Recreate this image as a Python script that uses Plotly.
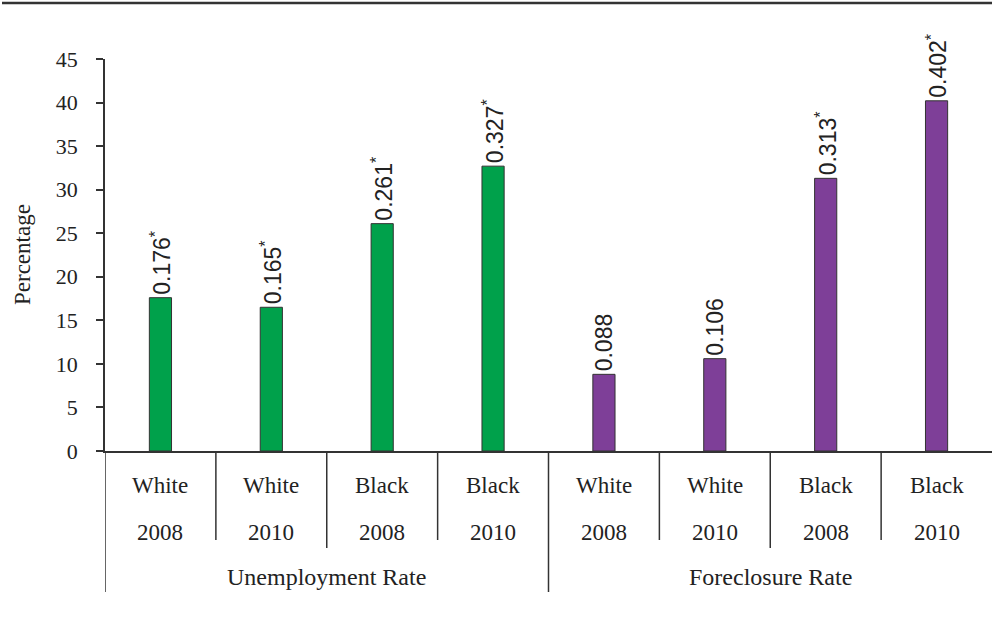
import plotly.graph_objects as go

groups = ["Unemployment Rate", "Foreclosure Rate"]
races = ["White", "White", "Black", "Black", "White", "White", "Black", "Black"]
years = ["2008", "2010", "2008", "2010", "2008", "2010", "2008", "2010"]
values = [17.6, 16.5, 26.1, 32.7, 8.8, 10.6, 31.3, 40.2]
labels = ["0.176", "0.165", "0.261", "0.327", "0.088", "0.106", "0.313", "0.402"]
significant = [True, True, True, True, False, False, True, True]
group_of_bar = [0, 0, 0, 0, 1, 1, 1, 1]
y_ticks = [0, 5, 10, 15, 20, 25, 30, 35, 40, 45]

GREEN = "#00A14B"
PURPLE = "#7E3F98"
DARK = "#333333"
TXT = "#222222"
SERIF = "Liberation Serif"
SANS = "Liberation Sans"

W, H = 992, 617
ML, MR, MT, MB = 105, 0, 59, 166
PH = H - MT - MB
PW = W - ML - MR

xs = list(range(len(values)))
colors = [GREEN if g == 0 else PURPLE for g in group_of_bar]
texts = [l + ("<sup>*</sup>" if s else "") for l, s in zip(labels, significant)]

fig = go.Figure()
fig.add_trace(go.Bar(
    x=xs, y=values, width=0.2,
    marker=dict(color=colors, line=dict(color=DARK, width=1)),
    text=texts, textposition="outside", textangle=-90,
    constraintext="none", cliponaxis=False,
    textfont=dict(family=SANS, size=23, color=TXT),
    hoverinfo="skip",
))

def py(px_below_axis):
    return -px_below_axis / PH

annotations = []
for i, (r, yv) in enumerate(zip(races, years)):
    annotations.append(dict(x=i, y=py(35), xref="x", yref="paper", text=r,
                            showarrow=False, yanchor="middle",
                            font=dict(family=SERIF, size=23, color=TXT)))
    annotations.append(dict(x=i, y=py(81), xref="x", yref="paper", text=yv,
                            showarrow=False, yanchor="middle",
                            font=dict(family=SERIF, size=23, color=TXT)))
for gi, g in enumerate(groups):
    idx = [i for i, gg in enumerate(group_of_bar) if gg == gi]
    cx = (idx[0] + idx[-1]) / 2
    annotations.append(dict(x=cx, y=py(126), xref="x", yref="paper", text=g,
                            showarrow=False, yanchor="middle",
                            font=dict(family=SERIF, size=24, color=TXT)))
annotations.append(dict(x=-(ML - 22) / PW, y=0.5, xref="paper", yref="paper",
                        text="Percentage", textangle=-90, showarrow=False,
                        xanchor="center", yanchor="middle",
                        font=dict(family=SERIF, size=23, color=TXT)))

shapes = []
n = len(values)
for k in range(n):
    b = k - 0.5
    if k == 0 or group_of_bar[k] != group_of_bar[k - 1]:
        depth = 141
    elif races[k] != races[k - 1]:
        depth = 97
    else:
        depth = 89
    shapes.append(dict(type="line", xref="x", yref="paper", x0=b, x1=b,
                       y0=0, y1=py(depth), line=dict(color=DARK, width=1.5)))
# top rule
top_y = (PH + MT - 3) / PH
shapes.append(dict(type="line", xref="paper", yref="paper",
                   x0=-(ML - 2) / PW, x1=1, y0=top_y, y1=top_y,
                   line=dict(color=DARK, width=2.5)))

fig.update_layout(
    width=W, height=H,
    margin=dict(l=ML, r=MR, t=MT, b=MB, pad=0),
    paper_bgcolor="white", plot_bgcolor="white",
    showlegend=False,
    annotations=annotations, shapes=shapes,
    xaxis=dict(range=[-0.5, n - 0.5], showticklabels=False, ticks="",
               showgrid=False, zeroline=False, showline=True,
               linecolor=DARK, linewidth=1.5, fixedrange=True),
    yaxis=dict(range=[0, 45], tickvals=y_ticks, ticks="outside", ticklen=7,
               tickcolor=DARK, tickwidth=1.5, showline=True, linecolor=DARK,
               linewidth=1.5, showgrid=False, zeroline=False,
               ticklabelstandoff=14,
               tickfont=dict(family=SERIF, size=22, color=TXT)),
)

fig.write_html("out.html",
               config={"displayModeBar": False},
               post_script="document.body.style.margin='0';document.body.style.padding='0';")
